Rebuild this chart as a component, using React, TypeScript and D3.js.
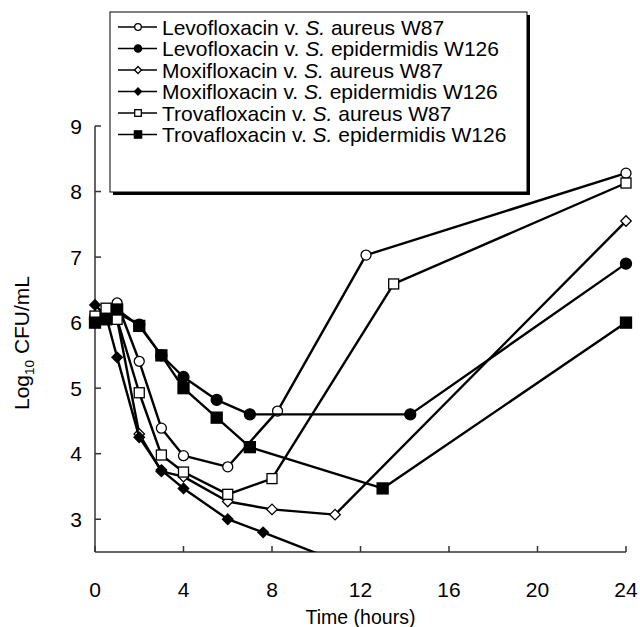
import React from "react";
import * as d3 from "d3";

const width = 640;
const height = 627;
const margin = { top: 126, right: 14, bottom: 75, left: 95 };

// time points (hours) and log10 CFU/mL
const levoAureusT = [0, 0.5, 1, 2, 3, 4, 6, 8.25, 12.25, 24];
const levoAureusV = [6.1, 6.15, 6.3, 5.41, 4.39, 3.97, 3.8, 4.65, 7.03, 8.28];
const levoEpiT = [0, 0.5, 1, 2, 3, 4, 5.5, 7, 14.25, 24];
const levoEpiV = [6.05, 6.1, 6.15, 5.97, 5.5, 5.17, 4.82, 4.6, 4.6, 6.9];
const moxiAureusT = [0, 0.5, 1, 2, 3, 4, 6, 8, 10.85, 24];
const moxiAureusV = [6.1, 6.15, 6.05, 4.3, 3.73, 3.65, 3.27, 3.15, 3.07, 7.55];
const moxiEpiT = [0, 0.5, 1, 2, 3, 4, 6, 7.6, 12];
const moxiEpiV = [6.27, 6.1, 5.47, 4.25, 3.75, 3.47, 3.0, 2.8, 2.22];
const trovaAureusT = [0, 0.5, 1, 2, 3, 4, 6, 8, 13.5, 24];
const trovaAureusV = [6.1, 6.22, 6.05, 4.93, 3.98, 3.72, 3.38, 3.62, 6.59, 8.13];
const trovaEpiT = [0, 0.5, 1, 2, 3, 4, 5.5, 7, 13, 24];
const trovaEpiV = [6.0, 6.05, 6.2, 5.95, 5.5, 5.0, 4.55, 4.1, 3.47, 6.0];

const drugs = ["Levofloxacin", "Levofloxacin", "Moxifloxacin", "Moxifloxacin", "Trovafloxacin", "Trovafloxacin"];
const strains = ["aureus W87", "epidermidis W126", "aureus W87", "epidermidis W126", "aureus W87", "epidermidis W126"];
const markerKinds = ["circle", "circle", "diamond", "diamond", "square", "square"];
const markerFilled = [false, true, false, true, false, true];

const xTicks = [0, 4, 8, 12, 16, 20, 24];
const yTicks = [3, 4, 5, 6, 7, 8, 9];

const seriesT = [levoAureusT, levoEpiT, moxiAureusT, moxiEpiT, trovaAureusT, trovaEpiT];
const seriesV = [levoAureusV, levoEpiV, moxiAureusV, moxiEpiV, trovaAureusV, trovaEpiV];

const font = "'Liberation Sans', Arial, sans-serif";

function Marker({ kind, filled, cx, cy, s }) {
  const fill = filled ? "#000" : "#fff";
  const sw = 1.3;
  if (kind === "circle") {
    return <circle cx={cx} cy={cy} r={filled ? s * 1.1 : s} fill={fill} stroke="#000" strokeWidth={sw} />;
  }
  if (kind === "square") {
    const h = filled ? s * 1.1 : s;
    return <rect x={cx - h} y={cy - h} width={h * 2} height={h * 2} fill={fill} stroke="#000" strokeWidth={sw} />;
  }
  const d = s * 1.05;
  const pts = [
    [cx, cy - d],
    [cx + d, cy],
    [cx, cy + d],
    [cx - d, cy],
  ];
  return <polygon points={pts.map((p) => p.join(",")).join(" ")} fill={fill} stroke="#000" strokeWidth={sw} />;
}

export default function App() {
  const x = d3.scaleLinear().domain([0, 24]).range([margin.left, width - margin.right]);
  const y = d3.scaleLinear().domain([2.5, 9]).range([height - margin.bottom, margin.top]);
  const line = d3
    .line<[number, number]>()
    .x((d) => x(d[0]))
    .y((d) => y(d[1]));

  const x0 = x(0);
  const y0 = y(2.5);

  // legend layout
  const lg = { left: 110, top: 12, right: 527, bottom: 192, row0: 27, rowH: 21.5 };

  return (
    <svg width={width} height={height} style={{ position: "absolute", left: 0, top: 0, background: "#fff" }}>
      <defs>
        <clipPath id="plot">
          <rect x={x0 - 8} y={y(9) - 8} width={x(24) - x0 + 16} height={y0 - y(9) + 8} />
        </clipPath>
      </defs>
      <rect width={width} height={height} fill="#fff" />

      {/* axes */}
      <g stroke="#333" strokeWidth={1.5} fill="none">
        <line x1={x0} x2={x0} y1={y(9)} y2={y0} />
        <line x1={x0} x2={x(24)} y1={y0} y2={y0} />
        {yTicks.map((t) => (
          <line key={"yt" + t} x1={x0} x2={x0 + 6} y1={y(t)} y2={y(t)} />
        ))}
        {xTicks.map((t) => (
          <line key={"xt" + t} x1={x(t)} x2={x(t)} y1={y0} y2={y0 - 6} />
        ))}
      </g>
      <g fontFamily={font} fontSize={21} fill="#000">
        {yTicks.map((t) => (
          <text key={"yl" + t} x={x0 - 13} y={y(t) + 7.5} textAnchor="end">
            {t}
          </text>
        ))}
        {xTicks.map((t) => (
          <text key={"xl" + t} x={x(t)} y={y0 + 45} textAnchor="middle">
            {t}
          </text>
        ))}
      </g>
      <text x={(x0 + x(24)) / 2} y={624} textAnchor="middle" fontFamily={font} fontSize={19.5}>
        Time (hours)
      </text>
      <text
        transform={`translate(29, ${(y(9) + y0) / 2 + 4}) rotate(-90)`}
        textAnchor="middle"
        fontFamily={font}
        fontSize={21}
      >
        <tspan>Log</tspan>
        <tspan fontSize={13.5} dy={5}>10</tspan>
        <tspan dy={-5}> CFU/mL</tspan>
      </text>

      {/* series */}
      <g clipPath="url(#plot)">
        {seriesT.map((ts, i) => {
          const pts = ts.map((t, j) => [t, seriesV[i][j]] as [number, number]);
          return (
            <g key={"s" + i}>
              <path d={line(pts) || ""} fill="none" stroke="#000" strokeWidth={2.4} strokeLinejoin="round" />
              {pts
                .filter((p) => p[1] >= 2.5)
                .map((p, j) => (
                  <Marker key={j} kind={markerKinds[i]} filled={markerFilled[i]} cx={x(p[0])} cy={y(p[1])} s={5} />
                ))}
            </g>
          );
        })}
      </g>

      {/* legend */}
      <rect x={lg.left + 3} y={lg.top + 3} width={lg.right - lg.left} height={lg.bottom - lg.top} fill="#000" />
      <rect x={lg.left} y={lg.top} width={lg.right - lg.left} height={lg.bottom - lg.top} fill="#fff" stroke="#000" strokeWidth={1} />
      {drugs.map((dname, i) => {
        const ry = lg.row0 + i * lg.rowH;
        return (
          <g key={"lg" + i}>
            <line x1={lg.left + 8} x2={lg.left + 47} y1={ry} y2={ry} stroke="#000" strokeWidth={1.6} />
            <Marker kind={markerKinds[i]} filled={markerFilled[i]} cx={lg.left + 28} cy={ry} s={3.3} />
            <text x={lg.left + 52} y={ry + 7.5} fontFamily={font} fontSize={21}>
              {dname} v. <tspan fontStyle="italic">S.</tspan> {strains[i]}
            </text>
          </g>
        );
      })}
    </svg>
  );
}
